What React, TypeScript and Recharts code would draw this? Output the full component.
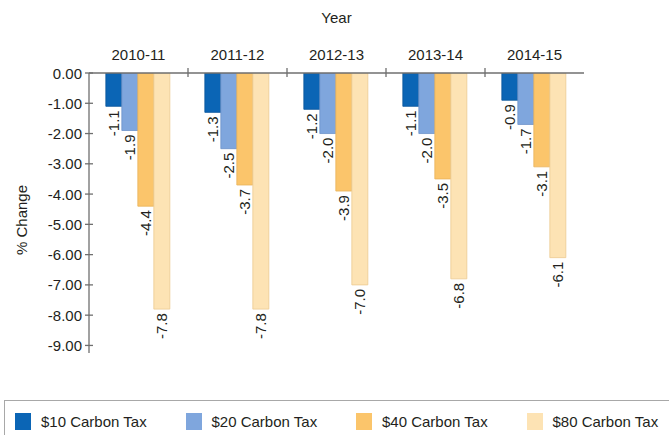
import React from 'react';
import { BarChart, Bar, XAxis, YAxis, LabelList, Label } from 'recharts';

const categories = ['2010-11', '2011-12', '2012-13', '2013-14', '2014-15'];
const tax10 = [-1.1, -1.3, -1.2, -1.1, -0.9];
const tax20 = [-1.9, -2.5, -2.0, -2.0, -1.7];
const tax40 = [-4.4, -3.7, -3.9, -3.5, -3.1];
const tax80 = [-7.8, -7.8, -7.0, -6.8, -6.1];
const yTicks = [0, -1, -2, -3, -4, -5, -6, -7, -8, -9];
const seriesNames = ['$10 Carbon Tax', '$20 Carbon Tax', '$40 Carbon Tax', '$80 Carbon Tax'];

const FONT = '"Liberation Sans", Arial, sans-serif';
const TEXT = '#231f20';
const AXIS = '#6f6f6f';

const series = [
  { key: 't10', name: seriesNames[0], values: tax10, fill: '#0b65b5', stroke: '#0a559a' },
  { key: 't20', name: seriesNames[1], values: tax20, fill: '#7fa6dd', stroke: '#6d93c9' },
  { key: 't40', name: seriesNames[2], values: tax40, fill: '#fbc56b', stroke: '#e9b25a' },
  { key: 't80', name: seriesNames[3], values: tax80, fill: '#fde3b4', stroke: '#ecca92' },
];

const data = categories.map((year, i) => {
  const row: any = { year };
  series.forEach((s) => {
    row[s.key] = s.values[i];
  });
  return row;
});

const CatTick = (props: any) => {
  const { x, y, payload } = props;
  const off = payload && typeof payload.offset === 'number' && payload.offset > 0 ? payload.offset : 49.5;
  return (
    <g>
      <text x={x} y={y - 13} textAnchor="middle" fontFamily={FONT} fontSize={15} fill={TEXT}>
        {payload.value}
      </text>
      {payload.index > 0 && (
        <line x1={x - off} x2={x - off} y1={y - 5} y2={y + 4} stroke={AXIS} strokeWidth={1.3} />
      )}
    </g>
  );
};

const YTick = (props: any) => {
  const { x, y, payload } = props;
  return (
    <g>
      <line x1={x - 4} x2={x + 4} y1={y} y2={y} stroke={AXIS} strokeWidth={1.3} />
      <text x={x - 7} y={y} textAnchor="end" dominantBaseline="central" fontFamily={FONT} fontSize={15} fill={TEXT}>
        {Number(payload.value).toFixed(2)}
      </text>
    </g>
  );
};

const BarLabel = (props: any) => {
  const { x, y, width, height, value } = props;
  const cx = Number(x) + Number(width) / 2;
  const bottom = Math.max(Number(y), Number(y) + Number(height)) + 4;
  return (
    <text
      x={cx}
      y={bottom}
      transform={`rotate(-90, ${cx}, ${bottom})`}
      textAnchor="end"
      dominantBaseline="central"
      fontFamily={FONT}
      fontSize={15}
      fill={TEXT}
    >
      {Number(value).toFixed(1)}
    </text>
  );
};

const YLabel = (props: any) => {
  const vb = props.viewBox || {};
  const cy = vb.y + vb.height / 2 + 7;
  const cx = 21;
  return (
    <text
      x={cx}
      y={cy}
      transform={`rotate(-90, ${cx}, ${cy})`}
      textAnchor="middle"
      dominantBaseline="central"
      fontFamily={FONT}
      fontSize={15}
      fill={TEXT}
    >
      % Change
    </text>
  );
};

export default function App() {
  return (
    <div style={{ position: 'absolute', left: 0, top: 0, width: 669, height: 435, overflow: 'hidden', background: '#fff' }}>
      <BarChart
        width={669}
        height={435}
        data={data}
        margin={{ top: 0, right: 85, bottom: 82, left: 0 }}
        barCategoryGap="17%"
        barGap={0}
      >
        <XAxis
          dataKey="year"
          orientation="top"
          height={73}
          interval={0}
          tickLine={false}
          tickSize={0}
          tickMargin={0}
          axisLine={{ stroke: AXIS, strokeWidth: 1.3 }}
          tick={<CatTick />}
        >
          <Label value="Year" position="insideTop" offset={12} fontFamily={FONT} fontSize={15} fill={TEXT} />
        </XAxis>
        <YAxis
          type="number"
          domain={[-9.25, 0]}
          ticks={yTicks}
          interval={0}
          width={89}
          allowDataOverflow
          tickLine={false}
          tickSize={0}
          tickMargin={0}
          axisLine={{ stroke: AXIS, strokeWidth: 1.3 }}
          tick={<YTick />}
          label={<YLabel />}
        />
        {series.map((s) => (
          <Bar
            key={s.key}
            dataKey={s.key}
            name={s.name}
            fill={s.fill}
            stroke={s.stroke}
            strokeWidth={0.8}
            isAnimationActive={false}
          >
            <LabelList dataKey={s.key} content={<BarLabel />} />
          </Bar>
        ))}
      </BarChart>
      <div
        style={{
          position: 'absolute',
          left: 4,
          top: 400,
          width: 720,
          height: 50,
          border: '1.5px solid #a8a8a8',
          boxSizing: 'border-box',
          display: 'flex',
          paddingLeft: 10,
          paddingTop: 11,
          fontFamily: FONT,
          fontSize: 15,
          color: TEXT,
        }}
      >
        {series.map((s) => (
          <div key={s.key} style={{ width: 170.5, display: 'flex', alignItems: 'center', height: 18 }}>
            <span
              style={{
                display: 'inline-block',
                width: 16,
                height: 17,
                background: s.fill,
                marginRight: 10,
              }}
            />
            <span style={{ whiteSpace: 'nowrap' }}>{s.name}</span>
          </div>
        ))}
      </div>
    </div>
  );
}
